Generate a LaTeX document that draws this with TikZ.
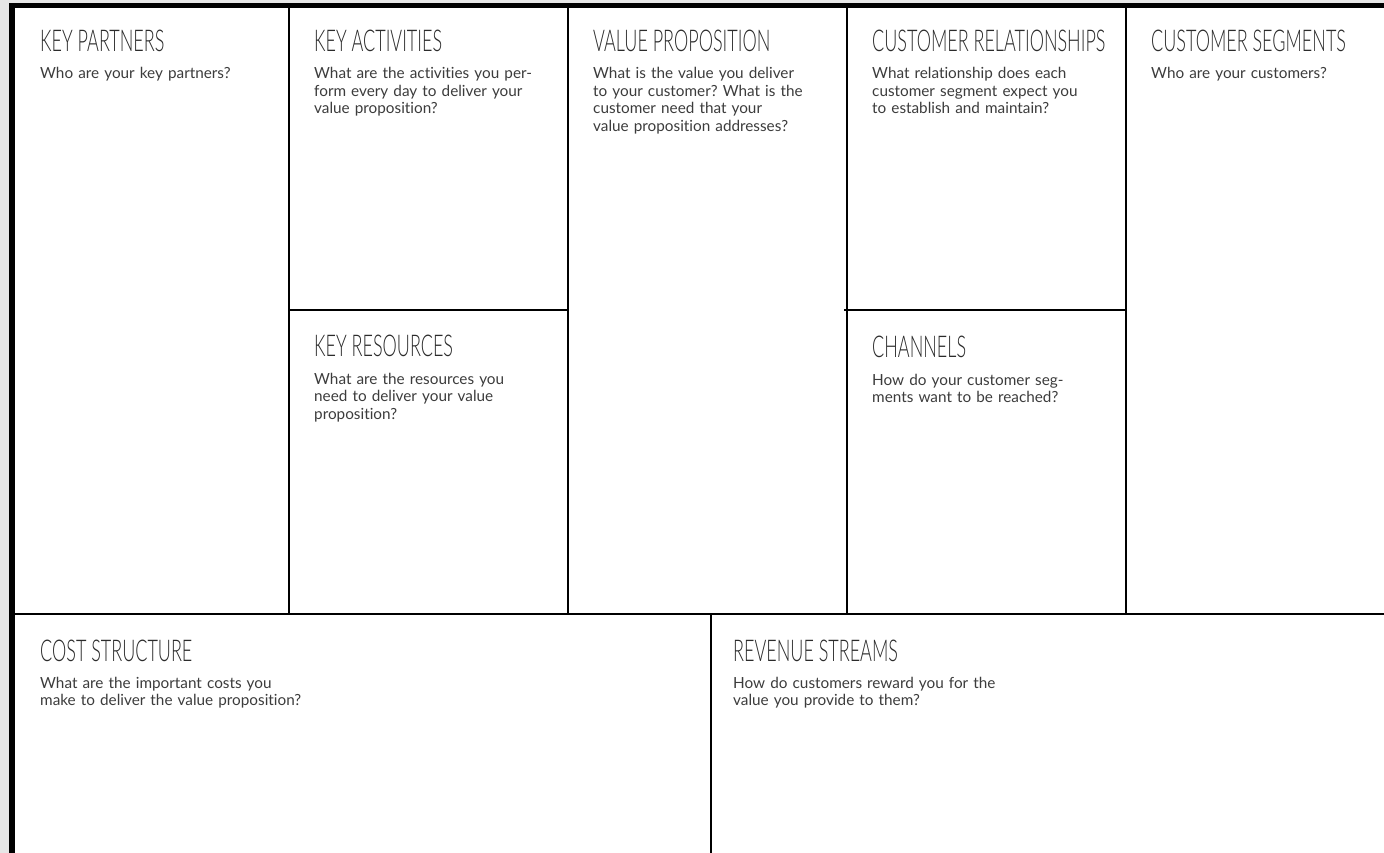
\documentclass[tikz,border=0pt]{standalone}
\usepackage{fontspec}
\setmainfont{Lato}[Ligatures=NoCommon]
\newfontfamily\headfont{Lato Light}[FakeStretch=0.6]
\usepackage{tikz}
\definecolor{paper}{HTML}{E6E6E6}
\definecolor{ink}{HTML}{2B2B2B}
\definecolor{note}{HTML}{3C3C3C}
\def\lw{1.6pt}
\frenchspacing

\tikzset{
  head/.style={anchor=base west, inner sep=0pt, text=ink,
    font={\headfont\fontsize{30}{32}\selectfont}},
  ask/.style={anchor=base west, inner sep=0pt, align=left, text width=400pt,
    text=note, font={\fontsize{15.3}{17.5}\selectfont}},
  rule/.style={line width=\lw, line cap=rect}
}

\begin{document}
\begin{tikzpicture}[x=1pt,y=-1pt]
\fill[paper] (0,0) rectangle (1384,853);
\fill[white] (9,3) rectangle (1384,853);
\fill (9,3) rectangle (15,853);
\fill (9,3) rectangle (1384,8);
\useasboundingbox (0,0) rectangle (1384,853);

\coordinate (L) at (15,614);
\coordinate (R) at (1384,614);
\coordinate (A) at (289,310);
\coordinate (B) at (568,310);
\coordinate (C) at (845,310);
\coordinate (D) at (1126,310);
\coordinate (M) at (711,614);
\coordinate (N) at (711,853);

\draw[rule] (L) -- (R);
\foreach \x in {289,568,847,1126}{
	\draw[rule] (\x,8) -- (\x,614);
}
\draw[rule] (A) -- (B);
\draw[rule] (C) -- (D);
\draw[rule] (M) -- (N);

\node[head] (kp) at (40,52) {KEY PARTNERS};
\node[ask] (kpq) at (40,79) {Who are your key partners?};

\node[head] (ka) at (314,52) {KEY ACTIVITIES};
\node[ask] (kaq) at (314,79) {What are the activities you per-\\form every day to deliver your\\value proposition?};

\node[head] (kr) at (314,356) {KEY RESOURCES};
\node[ask] (krq) at (314,384) {What are the resources you\\need to deliver your value\\proposition?};

\node[head] (vp) at (593,52) {VALUE PROPOSITION};
\node[ask] (vpq) at (593,79) {What is the value you deliver\\to your customer? What is the\\customer need that your\\value proposition addresses?};

\node[head] (cr) at (872,52) {CUSTOMER RELATIONSHIPS};
\node[ask] (crq) at (872,79) {What relationship does each\\customer segment expect you\\to establish and maintain?};

\node[head] (ch) at (872,357) {CHANNELS};
\node[ask] (chq) at (872,385) {How do your customer seg-\\ments want to be reached?};

\node[head] (cs) at (1151,52) {CUSTOMER SEGMENTS};
\node[ask] (csq) at (1151,79) {Who are your customers?};

\node[head] (co) at (40,661) {COST STRUCTURE};
\node[ask] (coq) at (40,688) {What are the important costs you\\make to deliver the value proposition?};

\node[head] (rs) at (733,661) {REVENUE STREAMS};
\node[ask] (rsq) at (733,688) {How do customers reward you for the\\value you provide to them?};
\end{tikzpicture}
\end{document}
